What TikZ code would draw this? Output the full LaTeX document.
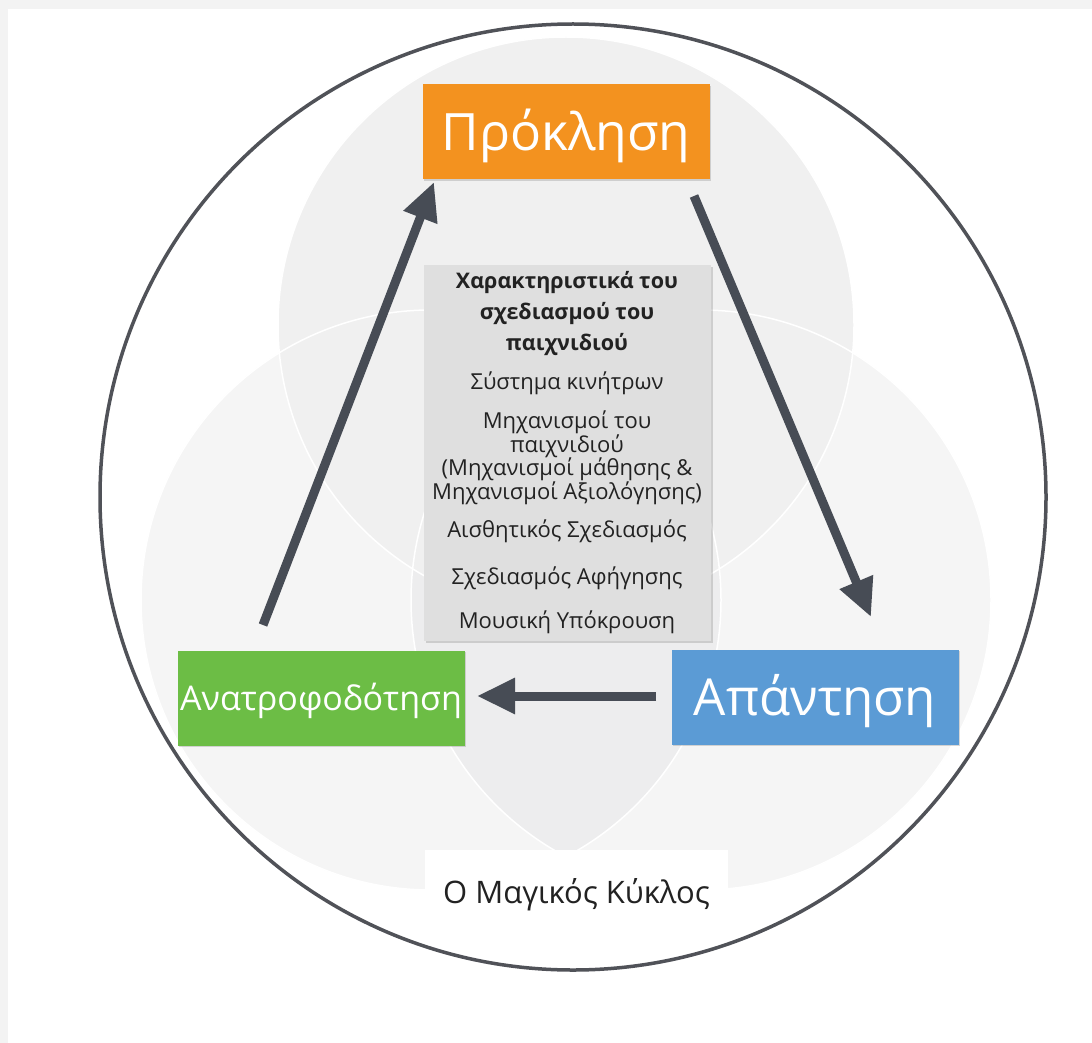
\documentclass[tikz,border=0pt]{standalone}
\usepackage{fontspec}
\setmainfont{Open Sans}
\usetikzlibrary{arrows.meta,shadows}

\definecolor{bgframe}{HTML}{F3F3F3}
\definecolor{venntop}{HTML}{F0F0F0}
\definecolor{vennlow}{HTML}{F5F5F5}
\definecolor{vennlens}{HTML}{EDEDEE}
\definecolor{ringline}{HTML}{505258}
\definecolor{arrowc}{HTML}{474C55}
\definecolor{chalorange}{HTML}{F3921F}
\definecolor{respblue}{HTML}{5B9BD5}
\definecolor{fbgreen}{HTML}{6CBD45}
\definecolor{panelgray}{HTML}{DFDFDF}
\definecolor{txtdark}{HTML}{222222}

\begin{document}
\begin{tikzpicture}[x=1pt,y=-1pt,
  stage/.style={minimum width=287pt, minimum height=95pt, inner sep=0pt,
    text=white, drop shadow={opacity=0.3, shadow xshift=1.5pt, shadow yshift=-1.5pt}},
  flow/.style={draw=arrowc, line width=9pt, -{Triangle[length=38pt,width=34pt]}},
  item/.style={font=\fontsize{22}{23.5}\selectfont, text=txtdark, align=center, inner sep=0pt},
  vennring/.style={draw=white, line width=1.5pt},
]
% frame and canvas
\fill[bgframe] (0,0) rectangle (1092,1043);
\fill[white] (8,9) rectangle (1092,1043);
\useasboundingbox (0,0) rectangle (1092,1043);

% faint three-circle background
\fill[vennlow] (431,600) circle [radius=290];
\fill[vennlow] (701,600) circle [radius=290];
\begin{scope}
  \clip (431,600) circle [radius=290];
  \fill[vennlens] (701,600) circle [radius=290];
\end{scope}
\fill[venntop] (566,325) circle [radius=288];
\draw[vennring] (431,600) circle [radius=290];
\draw[vennring] (701,600) circle [radius=290];
\draw[vennring] (566,325) circle [radius=288];

% outer ring
\draw[ringline, line width=3.5pt] (573,497) circle [radius=473];

% central panel
\node[fill=panelgray, minimum width=287pt, minimum height=376pt, inner sep=0pt,
  drop shadow={opacity=0.3, shadow xshift=2pt, shadow yshift=-2pt}] (panel) at (567.5,453) {};
\node[item, font=\fontsize{21.5}{31}\selectfont\bfseries] (ttl) at (567,314)
  {Χαρακτηριστικά του\\σχεδιασμού του\\παιχνιδιού};
\node[item] (i1) at (567,383) {Σύστημα κινήτρων};
\node[item] (i2) at (567,458) {Μηχανισμοί του\\παιχνιδιού\\(Μηχανισμοί μάθησης \&\\Μηχανισμοί Αξιολόγησης)};
\node[item] (i3) at (567,531) {Αισθητικός Σχεδιασμός};
\node[item] (i4) at (567,578) {Σχεδιασμός Αφήγησης};
\node[item] (i5) at (567,622) {Μουσική Υπόκρουση};

% the three stages
\node[stage, fill=chalorange, font=\fontsize{51.5}{55}\selectfont,
  text height=37pt, text depth=0pt] (chal) at (566,132) {Πρόκληση};
\node[stage, fill=respblue, font=\fontsize{51}{55}\selectfont,
  text height=37pt, text depth=0pt] (resp) at (815,697) {Απάντηση};
\node[stage, fill=fbgreen, font=\fontsize{34}{40}\selectfont,
  text height=24pt, text depth=0pt] (fb) at (321,698) {Ανατροφοδότηση};

% cycle arrows
\coordinate (fbTail) at (263,625);
\coordinate (chalTip) at (434,182);
\coordinate (chalTail) at (694,196);
\coordinate (respTip) at (871,617);
\coordinate (respTail) at (656,696);
\coordinate (fbTip) at (477,696);
\draw[flow] (fbTail) -- (chalTip);
\draw[flow] (chalTail) -- (respTip);
\draw[flow] (respTail) -- (fbTip);

% caption
\node[fill=white, minimum width=303pt, minimum height=62pt, inner sep=0pt,
  text height=53pt, text depth=9pt,
  font=\fontsize{31}{36}\selectfont, text=txtdark] (cap) at (576.5,881) {Ο Μαγικός Κύκλος};
\end{tikzpicture}
\end{document}
